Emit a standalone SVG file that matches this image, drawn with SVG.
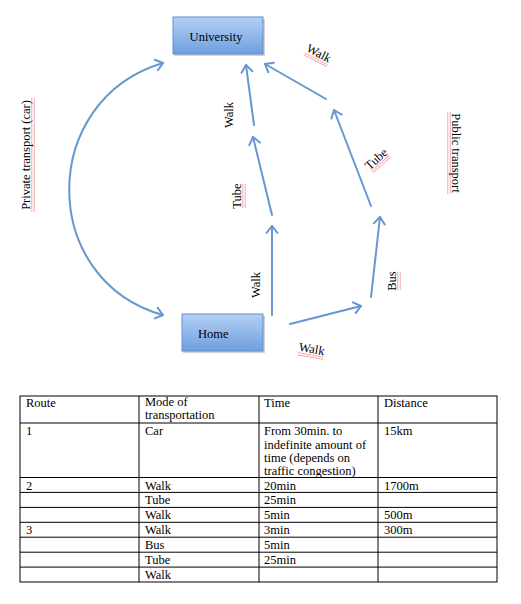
<svg xmlns="http://www.w3.org/2000/svg" width="521" height="604" viewBox="0 0 521 604">
<style>
.t{font-family:"Liberation Serif","Times New Roman",serif;font-size:12.5px;fill:#000}
.c{stroke:#6796d0;stroke-width:2;fill:none;stroke-linecap:round}
.g{stroke:#000;stroke-width:1;fill:none}
</style>
<defs>
<linearGradient id="bx" x1="0" y1="0" x2="0" y2="1">
<stop offset="0" stop-color="#b4d0f5"/>
<stop offset="1" stop-color="#6e9fdf"/>
</linearGradient>
<pattern id="sq" width="3" height="3" patternUnits="userSpaceOnUse">
<path d="M0,0.6 L1.5,2.2 L3,0.6" stroke="#e8202a" stroke-width="0.9" fill="none"/>
</pattern>
<marker id="ah" markerUnits="userSpaceOnUse" markerWidth="16" markerHeight="16" viewBox="-10 -8 12 16" refX="0" refY="0" orient="auto-start-reverse">
<path d="M-7,-5.5 L0,0 L-7,5.5" stroke="#6796d0" stroke-width="2" fill="none" stroke-linecap="round" stroke-linejoin="round"/>
</marker>
</defs>
<rect width="521" height="604" fill="#fff"/>

<g id="university">
<rect x="174" y="19" width="91" height="37" fill="#9a9a9a" opacity="0.45"/>
<rect x="173" y="17" width="90" height="37" fill="url(#bx)" stroke="#5e8fcf" stroke-width="1"/>
<text class="t" x="216" y="41" text-anchor="middle">University</text>
</g>

<g id="home">
<rect x="183" y="316" width="82" height="37" fill="#9a9a9a" opacity="0.45"/>
<rect x="182" y="314" width="81" height="37" fill="url(#bx)" stroke="#5e8fcf" stroke-width="1"/>
<text class="t" x="198" y="338">Home</text>
</g>

<g id="connectors">
<path class="c" d="M163,63 C38,100 38,280 163,315" marker-start="url(#ah)" marker-end="url(#ah)"/>
<path class="c" d="M272,315 L272,226" marker-end="url(#ah)"/>
<path class="c" d="M272,215 L253,137" marker-end="url(#ah)"/>
<path class="c" d="M254,125 L246,65" marker-end="url(#ah)"/>
<path class="c" d="M290,324 L361,306" marker-end="url(#ah)"/>
<path class="c" d="M371,297 L380,217" marker-end="url(#ah)"/>
<path class="c" d="M371,206 L334,110" marker-end="url(#ah)"/>
<path class="c" d="M326,99 L265,64" marker-end="url(#ah)"/>
</g>

<g id="labels">
<g transform="translate(30,155) rotate(-90)">
<text class="t" x="0" y="0" text-anchor="middle">Private transport (car)</text>
<rect x="-57" y="1.5" width="114" height="3" fill="url(#sq)"/>
</g>
<g transform="translate(452,153) rotate(90)">
<text class="t" x="0" y="0" text-anchor="middle">Public transport</text>
<rect x="-41" y="1.5" width="82" height="3" fill="url(#sq)"/>
</g>
<g transform="translate(317,57) rotate(27)">
<text class="t" x="0" y="0" text-anchor="middle">Walk</text>
<rect x="-13" y="1.5" width="26" height="3" fill="url(#sq)"/>
</g>
<g transform="translate(233,115) rotate(-90)">
<text class="t" x="0" y="0" text-anchor="middle">Walk</text>
</g>
<g transform="translate(241,196) rotate(-90)">
<text class="t" x="0" y="0" text-anchor="middle">Tube</text>
<rect x="-12" y="1.5" width="24" height="3" fill="url(#sq)"/>
</g>
<g transform="translate(260,285) rotate(-90)">
<text class="t" x="0" y="0" text-anchor="middle">Walk</text>
</g>
<g transform="translate(379,162) rotate(-42)">
<text class="t" x="0" y="0" text-anchor="middle">Tube</text>
<rect x="-12" y="1.5" width="24" height="3" fill="url(#sq)"/>
</g>
<g transform="translate(396,281) rotate(-90)">
<text class="t" x="0" y="0" text-anchor="middle">Bus</text>
<rect x="-9" y="1.5" width="18" height="3" fill="url(#sq)"/>
</g>
<g transform="translate(311,353) rotate(10)">
<text class="t" x="0" y="0" text-anchor="middle">Walk</text>
<rect x="-13" y="1.5" width="26" height="3" fill="url(#sq)"/>
</g>
</g>

<g id="table">
<rect class="g" x="20" y="396" width="477" height="186"/>
<path class="g" d="M139,396 V582 M259,396 V582 M378,396 V582"/>
<path class="g" d="M20,423 H497 M20,477.5 H497 M20,492.4 H497 M20,507.4 H497 M20,522.3 H497 M20,537.2 H497 M20,552.2 H497 M20,567.1 H497"/>
<text class="t" x="26" y="407">Route</text>
<text class="t" x="145" y="406">Mode of</text>
<text class="t" x="145" y="419">transportation</text>
<text class="t" x="264" y="407">Time</text>
<text class="t" x="384" y="407">Distance</text>
<text class="t" x="26" y="435">1</text>
<text class="t" x="145" y="435">Car</text>
<text class="t" x="264" y="435">From 30min. to</text>
<text class="t" x="264" y="448.5">indefinite amount of</text>
<text class="t" x="264" y="462">time (depends on</text>
<text class="t" x="264" y="475">traffic congestion)</text>
<text class="t" x="384" y="435">15km</text>
<text class="t" x="26" y="489.5">2</text>
<text class="t" x="145" y="489.5">Walk</text>
<text class="t" x="264" y="489.5">20min</text>
<text class="t" x="384" y="489.5">1700m</text>
<text class="t" x="145" y="504.4">Tube</text>
<text class="t" x="264" y="504.4">25min</text>
<text class="t" x="145" y="519.3">Walk</text>
<text class="t" x="264" y="519.3">5min</text>
<text class="t" x="384" y="519.3">500m</text>
<text class="t" x="26" y="534.2">3</text>
<text class="t" x="145" y="534.2">Walk</text>
<text class="t" x="264" y="534.2">3min</text>
<text class="t" x="384" y="534.2">300m</text>
<text class="t" x="145" y="549.1">Bus</text>
<text class="t" x="264" y="549.1">5min</text>
<text class="t" x="145" y="564">Tube</text>
<text class="t" x="264" y="564">25min</text>
<text class="t" x="145" y="579">Walk</text>
</g>
</svg>
